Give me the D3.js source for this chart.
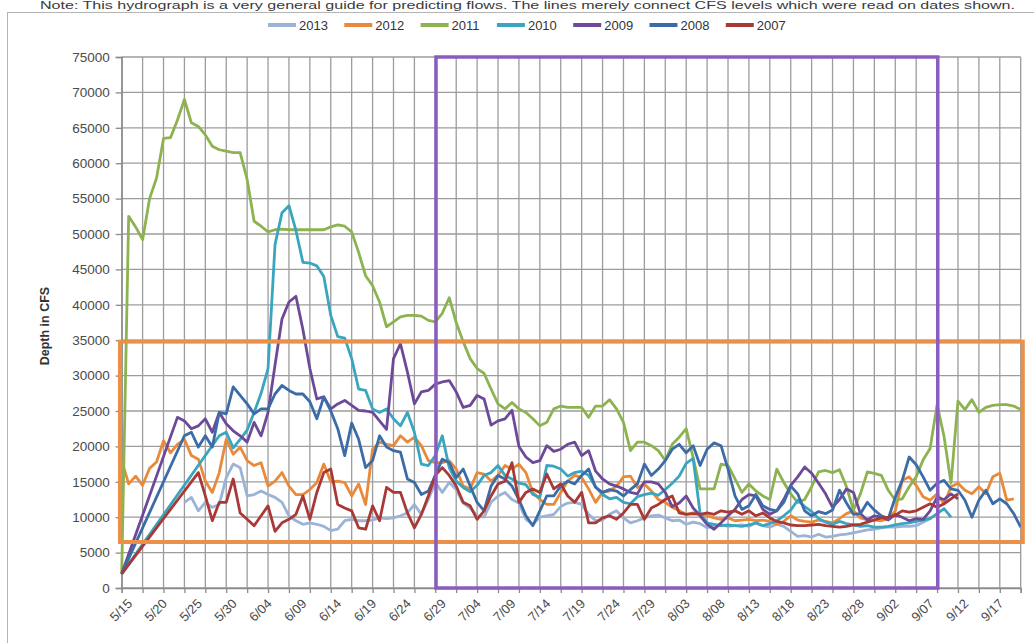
<!DOCTYPE html>
<html>
<head>
<meta charset="utf-8">
<script src="https://cdn.jsdelivr.net/npm/d3@7"></script>
<style>
  body { margin: 0; background: #fff; }
  svg { display: block; font-family: "Liberation Sans", Arial, sans-serif; }
</style>
</head>
<body>
<div id="chart"></div>
<script>
// Hydrograph, daily readings. Index = day since 5/15 (0 = 5/15, 129 = 9/21).
// null = no reading that day (Excel connects over the gap).

var noteText = "Note: This hydrograph is a very general guide for predicting flows. The lines merely connect CFS levels which were read on dates shown.";
var yTitle = "Depth in CFS";

var xLabels = ["5/15","5/20","5/25","5/30","6/04","6/09","6/14","6/19","6/24","6/29","7/04","7/09","7/14",
               "7/19","7/24","7/29","8/03","8/08","8/13","8/18","8/23","8/28","9/02","9/07","9/12","9/17"];
var yTicks = [0,5000,10000,15000,20000,25000,30000,35000,40000,45000,50000,55000,60000,65000,70000,75000];
var seriesNames = ["2013","2012","2011","2010","2009","2008","2007"];

var cfs2013 = [null,null,null,null,null,null,null,null,null,
  12100,12800,10900,12100,11400,11800,15600,17500,17000,13000,
  13200,13700,13200,12800,12100,10200,9500,9000,9200,9000,
  8700,8100,8300,9500,9700,9500,9500,9600,9900,9800,
  9900,10200,10600,11800,10400,12500,14900,13500,14900,13900,
  12000,11300,10200,10000,12100,13000,13500,12500,12000,9700,
  9000,10000,10200,10400,11500,12000,12100,11800,10400,9500,
  9600,10400,10900,9900,9200,9500,9900,10200,10300,9900,
  9500,9600,9000,9300,9100,8500,8800,8900,8700,8800,
  8900,8700,9200,8800,8600,9000,8700,8000,7300,7400,
  7200,7600,7200,7300,7500,7600,7800,8000,8200,8300,
  8500,8600,8600,8700,8700,8800,9300,9800];

var cfs2012 = [18000,14700,15800,14500,16900,17800,20800,19100,20300,21000,
  18700,18200,15100,13500,16300,21000,18900,19900,18000,17300,
  17700,14400,15100,16300,14400,13200,13200,13900,14900,17500,
  15000,15100,14900,13000,14700,11800,19600,20600,20300,20100,
  21500,20600,21300,20100,18000,17700,17700,18000,16800,14400,
  14000,16300,16100,15100,15900,17300,16800,17500,16300,13500,
  12500,11800,11800,13500,15100,15900,15600,14000,12100,13500,
  13700,14400,15700,15800,14200,14700,13700,12500,12100,11400,
  10900,10400,10600,10500,10200,9900,9700,9900,9500,9600,
  9700,9500,9600,9400,9000,9400,10200,9600,9400,9300,
  9600,9400,9200,9800,10500,10900,9900,9600,9600,9500,
  9800,10900,15200,15700,14500,12900,12400,13300,11900,14300,
  14800,13800,13300,14300,13300,15700,16200,12400,12600];

var cfs2011 = [2000,52500,51000,49200,55000,57900,63500,63600,66100,69000,
  65700,65200,64000,62400,61900,61700,61500,61500,57700,51800,
  51100,50300,50600,50700,50600,50600,50600,50600,50600,50600,
  51000,51300,51100,50300,47400,44100,42700,40400,36900,37600,
  38300,38500,38500,38400,37800,37600,38800,41000,37500,34800,
  32400,31000,30300,28100,26000,25300,26200,25300,24800,23900,
  22900,23400,25300,25700,25500,25500,25500,24100,25700,25700,
  26600,25300,23400,19400,20600,20600,20100,19400,18000,20300,
  21300,22500,18400,14000,14000,14000,17500,17300,15400,13500,
  14700,13700,13000,12500,16800,14900,13300,12100,12500,14300,
  16400,16600,16300,16700,14300,11000,13300,16400,16200,15900,
  13800,12400,12600,14300,15700,18100,19700,25900,21400,14800,
  26400,25200,26600,24800,25500,25800,25900,25900,25700,25200];

var cfs2010 = [2000,null,null,null,null,null,null,null,null,null,
  null,null,null,null,21500,22000,19800,21000,22300,24800,
  27500,31000,48500,53000,54000,50500,46000,45900,45500,44000,
  38500,35500,35300,32400,28100,27900,25300,24800,25300,23900,
  22900,24800,22000,17500,17300,18700,21500,17000,15100,14200,
  13600,14500,15900,16300,17300,15900,15400,14800,14600,13200,
  12800,17300,17200,16800,15800,16300,16500,15900,14300,13200,
  12600,12800,12100,11900,12900,13200,13400,13100,13900,14800,
  15800,17600,18300,10500,9200,9000,8800,8900,8800,8700,
  8900,9200,8800,9100,9500,10200,11000,12400,11500,10800,
  9800,9300,9000,9400,9100,8900,8700,8800,8600,8600,
  8700,8900,9100,9200,9400,9600,9800,10500,11200,10000];

var cfs2009 = [2000,null,null,null,null,null,null,null,24100,23600,
  22500,22900,23900,22000,24800,23200,22200,21500,20600,23400,
  21500,24800,31500,38000,40400,41200,36500,31000,26700,27000,
  25300,26000,26500,25800,25100,25000,24800,23600,22400,32400,
  34500,30500,26000,27700,27900,28800,29100,29300,27700,25500,
  25800,27200,26700,23000,23600,23900,25100,20000,18500,17700,
  18000,20100,19300,19600,20300,20600,18700,19400,16500,15400,
  14700,14400,14000,13500,13300,15000,15000,14700,13500,11500,
  12000,13000,11300,10200,9000,8300,9200,10200,11100,12500,
  13200,13000,11100,10400,10900,12500,14500,15700,17100,16200,
  14800,13300,11400,12500,14000,13500,10500,9600,10200,10000,
  9600,10400,10000,9500,9800,9700,10900,12800,12500,13300,12600];

var cfs2008 = [2000,null,null,null,null,null,null,null,null,21500,
  22000,19900,21500,19900,24800,24600,28400,27200,26000,24600,
  25300,25300,27400,28600,27900,27400,27400,26300,23900,27000,
  25000,22500,18700,23300,21000,17000,18000,21500,19900,19400,
  19200,15400,14900,13200,13700,15900,18200,17700,15600,16800,
  14400,12100,10900,14400,15900,15400,14400,12500,10200,8800,
  10900,13000,13000,14400,15100,14700,15900,16800,14200,13500,
  13900,13700,13000,13900,14700,17500,15900,16800,18000,19600,
  20300,19100,20100,17300,19600,20500,20100,16800,13000,11100,
  11600,13200,11600,11100,10900,12100,14400,13300,10900,10200,
  10800,10500,11000,13800,12000,10400,10500,12100,11000,10200,
  9800,12800,15200,18500,17400,15700,13800,14800,15200,14000,
  13800,12400,10000,12400,13800,11900,12600,11900,10500,8600];

var cfs2007 = [2000,null,null,null,null,null,null,null,null,null,
  null,16300,13000,9500,12100,12100,15400,10600,9700,8800,
  10200,11600,8000,9200,9700,10400,13000,9700,13500,16300,
  16800,11800,11300,10900,8500,8300,11600,9500,14200,13500,
  13500,10600,8500,10400,13000,15900,17000,15900,14400,12100,
  11600,9700,10900,13000,14700,15100,17700,12100,13500,14000,
  13500,16100,14000,14700,13000,12100,13500,9200,9200,9900,
  10200,9700,10600,11800,11800,9700,11300,11800,12500,13000,
  10600,10400,10500,10400,10600,10400,10900,10700,10900,10400,
  10900,10200,10600,9900,9400,9200,8900,8800,8800,8900,
  9000,8800,8700,8600,8700,8900,9000,9300,9600,9900,
  10000,10300,10900,10700,10900,11400,11900,11400,11900,12600,13300];

var seriesValues = [cfs2013, cfs2012, cfs2011, cfs2010, cfs2009, cfs2008, cfs2007];

// hand-drawn highlight boxes on the original (day / cfs units)
var orangeBox = { from: -0.25, to: 129.3, low: 6500, high: 34800 };
var purpleBox = { from: 45.1, to: 117.1, low: 0, high: 75000 };

//------------------------------------------------------------------->

var W = 1034, H = 643;
var colors = ["#9ab3d6","#e98a3b","#8db350","#3aa5bf","#6d4a98","#3b6ca7","#a83937"];
var lastDay = 129;

var svg = d3.select("#chart").append("svg")
    .attr("width", W)
    .attr("height", H);

var x = d3.scaleLinear().domain([0, lastDay]).range([121.7, 1020.7]);
var y = d3.scaleLinear().domain([0, 75000]).range([588, 57]);

// outer chart border (runs off the right/bottom of the screenshot) + note above it
svg.append("rect")
    .attr("x", 7.5).attr("y", 12.5)
    .attr("width", 1060).attr("height", 660)
    .attr("fill", "none").attr("stroke", "#b4b4b4");

svg.append("text")
    .attr("x", 40).attr("y", 9)
    .attr("textLength", 975).attr("lengthAdjust", "spacingAndGlyphs")
    .style("font-size", "10.5px").style("fill", "#3a3a3a")
    .text(noteText);

// gridlines
var gridDays = d3.range(0, lastDay + 1, 3);
svg.append("g").selectAll("line")
    .data(gridDays).enter().append("line")
    .attr("x1", function (d) { return x(d); }).attr("x2", function (d) { return x(d); })
    .attr("y1", y(0)).attr("y2", y(75000))
    .attr("stroke", "#9c9c9c").attr("stroke-width", 1.3);

svg.append("g").selectAll("line")
    .data(yTicks).enter().append("line")
    .attr("x1", x(0)).attr("x2", x(lastDay))
    .attr("y1", function (d) { return y(d); }).attr("y2", function (d) { return y(d); })
    .attr("stroke", "#9c9c9c").attr("stroke-width", 1.3);

// axes
var yAxis = svg.append("g")
    .attr("transform", "translate(" + x(0) + ",0)")
    .call(d3.axisLeft(y).tickValues(yTicks).tickSize(6).tickPadding(6).tickFormat(d3.format("d")));
yAxis.selectAll("text").style("font-size", "13.5px").style("fill", "#4a4a4a");

var xAxis = svg.append("g")
    .attr("transform", "translate(0," + y(0) + ")")
    .call(d3.axisBottom(x).tickValues(gridDays).tickSize(5).tickFormat(""));

[yAxis, xAxis].forEach(function (a) {
    a.select(".domain").attr("stroke", "#8a8a8a").attr("stroke-width", 1.3);
    a.selectAll(".tick line").attr("stroke", "#8a8a8a").attr("stroke-width", 1.3);
});

svg.append("g").selectAll("text")
    .data(xLabels).enter().append("text")
    .attr("transform", function (d, i) {
        return "translate(" + (x(i * 5) + 5) + "," + (y(0) + 10) + ") rotate(-45)";
    })
    .attr("text-anchor", "end")
    .attr("dy", "0.7em")
    .style("font-size", "13px").style("fill", "#4a4a4a")
    .text(String);

svg.append("text")
    .attr("transform", "translate(49," + y(37000) + ") rotate(-90)")
    .attr("text-anchor", "middle")
    .style("font-size", "12.5px").style("font-weight", "bold").style("fill", "#333")
    .text(yTitle);

// series lines
var line = d3.line()
    .x(function (d) { return x(d.day); })
    .y(function (d) { return y(d.v); });

seriesValues.forEach(function (vals, i) {
    var pts = [];
    vals.forEach(function (v, day) { if (v != null) pts.push({ day: day, v: v }); });
    svg.append("path")
        .datum(pts)
        .attr("d", line)
        .attr("fill", "none")
        .attr("stroke", colors[i])
        .attr("stroke-width", 2.8)
        .attr("stroke-linejoin", "round");
});

// highlight boxes
function box(b, color, w) {
    svg.append("rect")
        .attr("x", x(b.from)).attr("y", y(b.high))
        .attr("width", x(b.to) - x(b.from)).attr("height", y(b.low) - y(b.high))
        .attr("fill", "none").attr("stroke", color).attr("stroke-width", w);
}
box(orangeBox, "#ea9048", 4);
box(purpleBox, "#8a5cc0", 3.5);

// legend
var legend = svg.append("g").selectAll("g")
    .data(seriesNames).enter().append("g")
    .attr("transform", function (d, i) { return "translate(" + (268 + i * 76.3) + ",25)"; });
legend.append("line")
    .attr("x1", 0).attr("x2", 28)
    .attr("stroke", function (d, i) { return colors[i]; })
    .attr("stroke-width", 4);
legend.append("text")
    .attr("x", 31).attr("dy", "0.36em")
    .style("font-size", "13px").style("fill", "#333")
    .text(String);
</script>
</body>
</html>
